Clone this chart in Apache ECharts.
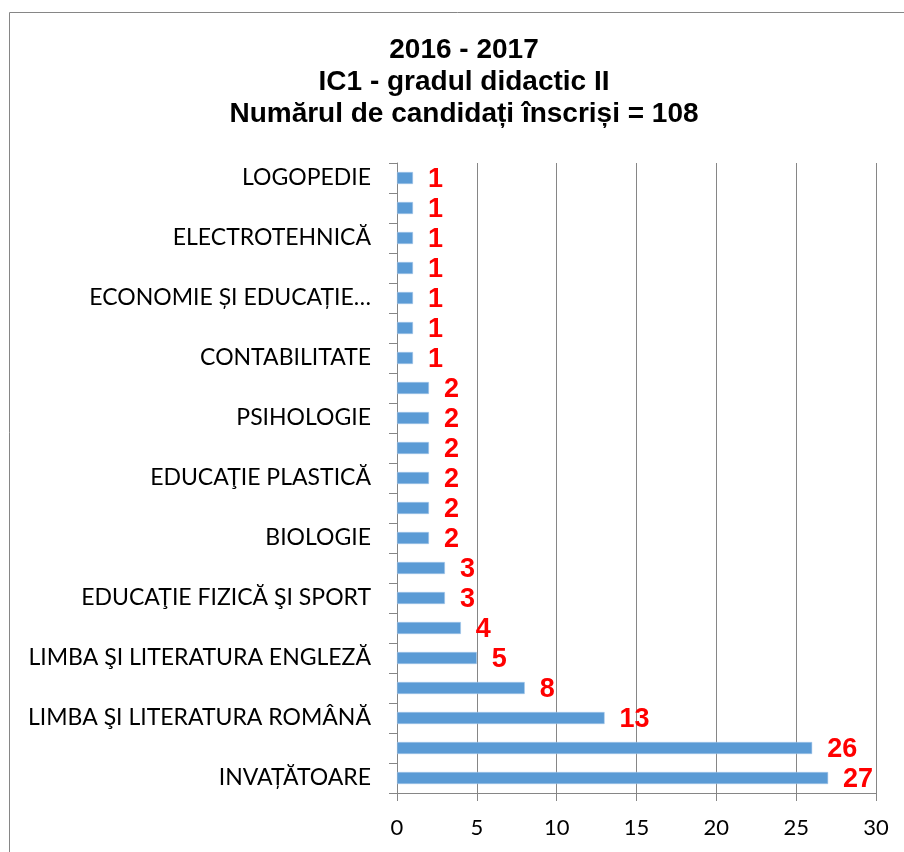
<!DOCTYPE html>
<html>
<head>
<meta charset="utf-8">
<script src="https://cdn.jsdelivr.net/npm/echarts@6/dist/echarts.min.js"></script>
<style>
  html, body { margin: 0; padding: 0; background: #fff; }
  #chart { width: 904px; height: 852px; }
</style>
</head>
<body>
<div id="chart"></div>
<script>
// Subjects, listed from the bottom bar upwards
const subjects = [
  'INVAȚĂTOARE',
  'EDUCATOARE',
  'LIMBA ŞI LITERATURA ROMÂNĂ',
  'MATEMATICĂ',
  'LIMBA ŞI LITERATURA ENGLEZĂ',
  'ISTORIE',
  'EDUCAŢIE FIZICĂ ŞI SPORT',
  'GEOGRAFIE',
  'BIOLOGIE',
  'CHIMIE',
  'EDUCAŢIE PLASTICĂ',
  'FIZICĂ',
  'PSIHOLOGIE',
  'RELIGIE',
  'CONTABILITATE',
  'INFORMATICĂ',
  'ECONOMIE ȘI EDUCAȚIE…',
  'LIMBA ŞI LITERATURA FRANCEZĂ',
  'ELECTROTEHNICĂ',
  'EDUCAȚIE MUZICALĂ',
  'LOGOPEDIE'
];
// Enrolled candidates per subject
const candidates = [27, 26, 13, 8, 5, 4, 3, 3, 2, 2, 2, 2, 2, 2, 1, 1, 1, 1, 1, 1, 1];
const titleLines = ['2016 - 2017', 'IC1 - gradul didactic II', 'Numărul de candidați înscriși = 108'];

const axisGray = '#868686';
const labelFont = 'Lato, "Open Sans", sans-serif';

const chart = echarts.init(document.getElementById('chart'));
chart.setOption({
  animation: false,
  backgroundColor: '#ffffff',
  graphic: [{
    type: 'rect',
    shape: { x: 9.5, y: 12.5, width: 1000, height: 1000 },
    style: { fill: 'none', stroke: axisGray, lineWidth: 1 },
    silent: true
  }],
  title: {
    text: titleLines.join('\n'),
    left: 459,
    textAlign: 'center',
    top: 29,
    textStyle: {
      fontFamily: '"Liberation Sans", Arial, sans-serif',
      fontWeight: 'bold',
      fontSize: 28,
      lineHeight: 32,
      color: '#000'
    }
  },
  grid: { left: 397, right: 28, top: 163, bottom: 59, containLabel: false },
  xAxis: {
    type: 'value',
    min: 0,
    max: 30,
    interval: 5,
    axisLine: { show: true, lineStyle: { color: axisGray } },
    axisTick: { show: true, length: 8, lineStyle: { color: axisGray } },
    splitLine: { show: true, lineStyle: { color: axisGray, width: 1 } },
    axisLabel: { fontFamily: labelFont, fontSize: 22, color: '#000', margin: 24 }
  },
  yAxis: {
    type: 'category',
    data: subjects,
    axisLine: { show: true, lineStyle: { color: axisGray } },
    axisTick: { show: true, length: 8, interval: 0, alignWithLabel: false, lineStyle: { color: axisGray } },
    axisLabel: { interval: 1, fontFamily: labelFont, fontSize: 23, color: '#000', margin: 26 },
    splitLine: { show: false }
  },
  series: [{
    type: 'bar',
    data: candidates,
    barWidth: 12,
    itemStyle: { color: '#5B9BD5', borderColor: '#A9C8EA', borderWidth: 0.5 },
    label: {
      show: true,
      position: 'right',
      distance: 15,
      fontFamily: '"Liberation Sans", Arial, sans-serif',
      fontWeight: 'bold',
      fontSize: 27,
      color: '#FF0000',
      offset: [0, 2]
    }
  }]
});
</script>
</body>
</html>
